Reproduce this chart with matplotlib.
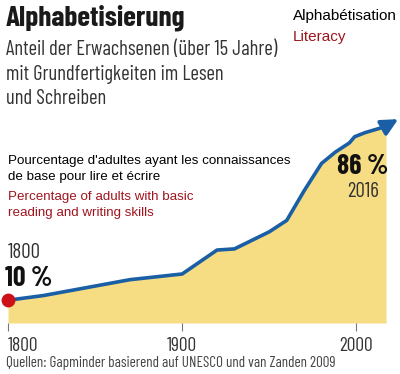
import matplotlib
matplotlib.use("Agg")
import matplotlib.pyplot as plt

years = [1800, 1820, 1870, 1900, 1920, 1930, 1950, 1960, 1970, 1980, 1988, 1996, 1999, 2005, 2016]
literacy = [10, 12, 19, 21.5, 32, 32.5, 40, 45, 58, 70, 75, 79, 81.7, 83.5, 86]
xticks = [1800, 1900, 2000]

FILL = "#F6DC82"
BLUE = "#1A5FA5"
RED = "#CC1118"
DARKRED = "#A0141E"

COND = ["Barlow Condensed", "DejaVu Sans"]
ARIAL = ["Liberation Sans", "DejaVu Sans"]

fig = plt.figure(figsize=(4.0, 3.74), dpi=100)
W, H = 400, 374


def fx(px):
    return px / W


def fy(py):
    return 1 - py / H


# axes: 1800 at x=8, 2017 at x=386; 0% at y=323, 100% at y=95
ax = fig.add_axes([fx(8), fy(323), fx(386 - 8), (323 - 95) / H])
ax.set_xlim(1800, 2017)
ax.set_ylim(0, 100)
ax.fill_between(years + [2017], literacy + [literacy[-1] + 0.2], 0, color=FILL, lw=0)
ax.plot(years, literacy, color=BLUE, lw=2.6, solid_capstyle="butt", zorder=3)
ax.annotate("", xy=(2024, literacy[-1] + 3.4), xytext=(years[-1], literacy[-1]),
            arrowprops=dict(arrowstyle="-|>,head_length=1.0,head_width=0.5",
                            color=BLUE, lw=2.6, shrinkA=0, shrinkB=0),
            annotation_clip=False, zorder=4)
ax.scatter([years[0]], [literacy[0]], s=80, color=RED, zorder=5, clip_on=False)

for s in ax.spines.values():
    s.set_visible(False)
ax.set_yticks([])
ax.set_xticks(xticks)
ax.set_xticklabels([str(t) for t in xticks], family=COND, fontsize=14, color="#333333")
ax.get_xticklabels()[0].set_ha("left")
ax.tick_params(axis="x", length=6, width=0.8, color="#777777", pad=4)
ax.patch.set_alpha(0)

fig.text(fx(6), fy(18), "Alphabetisierung", family=COND, weight="bold", fontsize=21,
         color="#1a1a1a", va="center", ha="left")
fig.text(fx(6), fy(74), "Anteil der Erwachsenen (über 15 Jahre)\nmit Grundfertigkeiten im Lesen\nund Schreiben",
         family=COND, fontsize=14.8, color="#333333", va="center", ha="left", linespacing=1.38)
fig.text(fx(293), fy(16), "Alphabétisation", family=ARIAL, fontsize=11, color="black",
         va="center", ha="left")
fig.text(fx(293), fy(37), "Literacy", family=ARIAL, fontsize=11, color=DARKRED,
         va="center", ha="left")
fig.text(fx(8), fy(169), "Pourcentage d'adultes ayant les connaissances\nde base pour lire et écrire",
         family=ARIAL, fontsize=9.6, color="black", va="center", ha="left", linespacing=1.45)
fig.text(fx(8), fy(205), "Percentage of adults with basic\nreading and writing skills",
         family=ARIAL, fontsize=9.6, color=DARKRED, va="center", ha="left", linespacing=1.45)

fig.text(fx(8), fy(253), str(years[0]), family=COND, fontsize=15, color="#333333",
         va="center", ha="left")
fig.text(fx(5), fy(278), "%d\u2009%%" % literacy[0], family=COND, weight="bold", fontsize=20,
         color="#111111", va="center", ha="left")
fig.text(fx(363), fy(167), "%d\u2009%%" % literacy[-1], family=COND, weight="bold", fontsize=20,
         color="#111111", va="center", ha="center")
fig.text(fx(363), fy(191), str(years[-1]), family=COND, fontsize=15, color="#333333",
         va="center", ha="center")
fig.text(fx(6), fy(363), "Quellen: Gapminder basierend auf UNESCO und van Zanden 2009",
         family=COND, fontsize=10.9, color="#444444", va="center", ha="left")

fig.savefig("out.png", dpi=100)
